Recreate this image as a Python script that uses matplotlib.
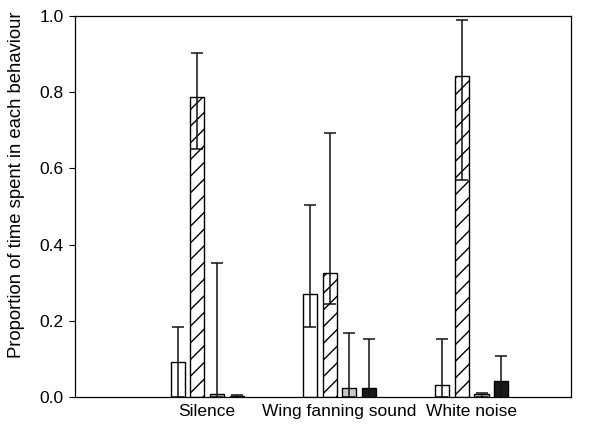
import matplotlib.pyplot as plt
import numpy as np

plt.rcParams['font.family'] = ['Liberation Sans', 'DejaVu Sans']

groups = ["Silence", "Wing fanning sound", "White noise"]

# mean proportion per behaviour (4 behaviours) for each treatment
means = [
    [0.091, 0.270, 0.031],
    [0.788, 0.325, 0.843],
    [0.007, 0.023, 0.007],
    [0.002, 0.023, 0.042],
]
upper = [
    [0.183, 0.504, 0.153],
    [0.902, 0.693, 0.990],
    [0.352, 0.169, 0.009],
    [0.006, 0.152, 0.108],
]
lower = [
    [0.0, 0.183, 0.0],
    [0.651, 0.243, 0.570],
    [0.0, 0.0, 0.0],
    [0.0, 0.0, 0.0],
]

fills = ['white', 'white', '#c8c8c8', '#1a1a1a']
hatches = [None, '//', None, None]

fig = plt.figure(figsize=(5.99, 4.24), dpi=100)
ax = fig.add_axes([0.125, 0.064, 0.828, 0.898])

x = np.arange(1, len(groups) + 1)
w = 0.106
step = 0.149
for i in range(4):
    pos = x + (i - 1.5) * step
    m = np.array(means[i])
    yerr = [m - np.array(lower[i]), np.array(upper[i]) - m]
    ax.bar(pos, m, width=w, color=fills[i], edgecolor='black', linewidth=1,
           hatch=hatches[i], zorder=2)
    ax.errorbar(pos, m, yerr=yerr, fmt='none', ecolor='#111111', elinewidth=1.1,
                capsize=4.3, capthick=1.1, zorder=3)

ax.set_xlim(0, 3.75)
ax.set_ylim(0, 1.0)
ax.set_xticks(x)
ax.set_xticklabels(groups, fontsize=12.5)
ax.tick_params(axis='x', length=0, pad=5)
ax.set_yticks(np.arange(0, 1.01, 0.2))
ax.set_yticklabels(["%.1f" % v for v in np.arange(0, 1.01, 0.2)], fontsize=12.5)
ax.tick_params(axis='y', direction='out', length=4, width=0.8, pad=4)
ax.set_ylabel("Proportion of time spent in each behaviour", fontsize=13.3)
ax.yaxis.set_label_coords(-0.1, 0.556)
for s in ax.spines.values():
    s.set_linewidth(0.9)

fig.savefig("out.png", dpi=100)
